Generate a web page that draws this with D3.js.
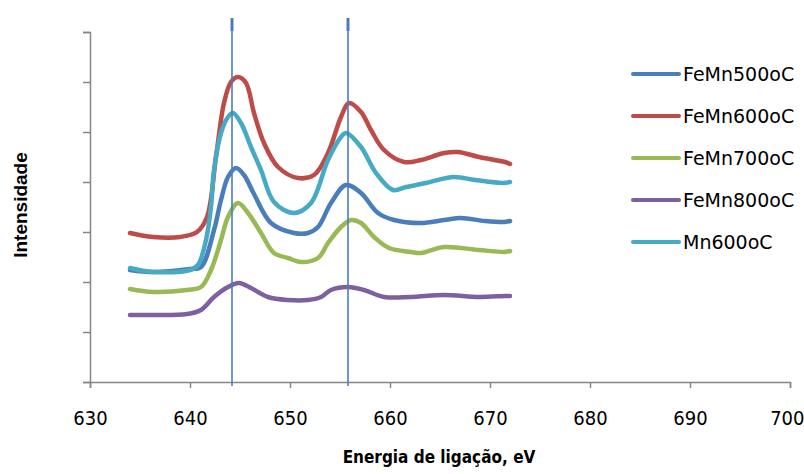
<!DOCTYPE html>
<html>
<head>
<meta charset="utf-8">
<script src="https://cdn.jsdelivr.net/npm/d3@7"></script>
<style>
  html, body { margin: 0; padding: 0; background: #fff; }
  svg { display: block; }
</style>
</head>
<body>
<div id="app"></div>
<script>
// binding energy (eV) and intensity (arbitrary units)
const feMn500E = [634, 636.3, 640, 641.1, 642.4, 643.1, 643.8, 644.6, 645.4, 646.4, 648.1, 650.4, 651.8, 652.8, 654.1, 655.6, 657.1, 658.8, 660.4, 663.1, 665.4, 667.1, 669.5, 671.5, 672];
const feMn500I = [112, 110, 113, 115, 152, 182, 205, 214, 207, 188, 159, 149, 149, 155, 179, 197, 189, 169, 162, 159, 162, 164, 161, 160, 161];

const feMn600E = [634, 636.3, 639, 640.7, 641.7, 642.6, 643.4, 644.1, 644.8, 645.6, 646.4, 647.4, 648.8, 650.8, 652.4, 653.8, 655.1, 655.9, 657.1, 658.1, 659.4, 661.4, 663.1, 665.4, 666.8, 668.9, 671.5, 672];
const feMn600I = [149, 145, 145, 150, 165, 225, 279, 300, 305, 299, 269, 239, 215, 204, 207, 229, 265, 279, 270, 252, 232, 220, 222, 229, 230, 225, 220, 218];

const feMn700E = [634, 636.3, 639.7, 641.1, 642.1, 643.1, 643.8, 644.8, 645.8, 647.1, 648.4, 649.8, 651.1, 652.8, 653.8, 655.1, 656.1, 657.1, 658.4, 659.9, 662.1, 663.1, 665.4, 668.9, 671.5, 672];
const feMn700I = [93, 90, 92, 95, 112, 142, 165, 179, 169, 149, 129, 124, 120, 124, 139, 155, 162, 159, 145, 134, 130, 129, 135, 132, 130, 131];

const feMn800E = [634, 636.3, 639.7, 641.1, 642.4, 643.8, 644.9, 646.1, 647.8, 649.8, 651.8, 653.1, 654.1, 655.8, 657.4, 659.4, 662.1, 665.4, 668.9, 671.5, 672];
const feMn800I = [67, 67, 68, 72, 85, 95, 99, 94, 85, 82, 82, 85, 92, 95, 92, 85, 85, 87, 85, 86, 86];

const mn600E = [634, 636.3, 640, 640.8, 641.6, 642.1, 642.4, 643.1, 643.8, 644.3, 645.1, 646.1, 647.1, 648.4, 650.4, 652.1, 653.8, 655.1, 655.6, 657.1, 658.6, 660.3, 661.6, 663.6, 666.4, 668.5, 671.3, 672];
const mn600I = [114, 110, 112, 117, 142, 175, 212, 249, 265, 269, 259, 235, 212, 180, 169, 179, 222, 245, 249, 235, 209, 192, 195, 199, 205, 202, 199, 200];

const seriesNames = ["FeMn500oC", "FeMn600oC", "FeMn700oC", "FeMn800oC", "Mn600oC"];
const seriesColors = ["#4a7ebb", "#be4b48", "#98b954", "#7d60a0", "#46aac5"];
const seriesE = [feMn500E, feMn600E, feMn700E, feMn800E, mn600E];
const seriesI = [feMn500I, feMn600I, feMn700I, feMn800I, mn600I];

// peak marker lines
const markerE = [644.2, 655.8];

const xTicks = [630, 640, 650, 660, 670, 680, 690, 700];
const yTicks = [0, 50, 100, 150, 200, 250, 300, 350];

const width = 804, height = 474;
const margin = {left: 90, right: 14, top: 32, bottom: 92};

const x = d3.scaleLinear().domain([630, 700]).range([margin.left, width - margin.right]);
const y = d3.scaleLinear().domain([0, 350]).range([height - margin.bottom, margin.top]);

const svg = d3.select("#app").append("svg")
    .attr("width", width)
    .attr("height", height)
    .attr("viewBox", [0, 0, width, height]);

// axes
const axisColor = "#868686";

const gx = svg.append("g")
    .attr("transform", `translate(0,${y(0)})`)
    .call(d3.axisBottom(x).tickValues(xTicks).tickSize(6).tickPadding(23).tickFormat(d3.format("d")));
gx.select(".domain").attr("stroke", axisColor).attr("stroke-width", 1.5);
gx.selectAll(".tick line").attr("stroke", axisColor).attr("stroke-width", 1.5);
gx.selectAll(".tick text")
    .attr("fill", "#000")
    .attr("font-family", "'DejaVu Sans Condensed', 'DejaVu Sans', sans-serif")
    .attr("font-size", 20);
// last label sits against the right edge, as in the original
gx.selectAll(".tick text").filter(d => d === 700).attr("text-anchor", "end").attr("dx", 14);

const gy = svg.append("g")
    .attr("transform", `translate(${x(630)},0)`)
    .call(d3.axisLeft(y).tickValues(yTicks).tickSize(7).tickFormat(""));
gy.select(".domain").attr("stroke", axisColor).attr("stroke-width", 1.5);
gy.selectAll(".tick line").attr("stroke", axisColor).attr("stroke-width", 1.5);

// series
const line = d3.line()
    .x(d => x(d[0]))
    .y(d => y(d[1]))
    .curve(d3.curveCatmullRom.alpha(0.5));

seriesNames.forEach((name, i) => {
  const pts = d3.zip(seriesE[i], seriesI[i]);
  svg.append("path")
      .datum(pts)
      .attr("fill", "none")
      .attr("stroke", seriesColors[i])
      .attr("stroke-width", 4.5)
      .attr("stroke-linejoin", "round")
      .attr("stroke-linecap", "round")
      .attr("d", line);
});

// vertical marker lines
markerE.forEach(e => {
  svg.append("line")
      .attr("x1", x(e)).attr("x2", x(e))
      .attr("y1", 18).attr("y2", y(0) + 4)
      .attr("stroke", "#4a7ebb")
      .attr("stroke-width", 1.6);
  svg.append("line")
      .attr("x1", x(e)).attr("x2", x(e))
      .attr("y1", 18).attr("y2", 31)
      .attr("stroke", "#4a7ebb")
      .attr("stroke-width", 3);
});

// legend
const legend = svg.append("g").attr("transform", "translate(633,74)");
seriesNames.forEach((name, i) => {
  const g = legend.append("g").attr("transform", `translate(0,${i * 42})`);
  g.append("line")
      .attr("x1", 0).attr("x2", 46)
      .attr("stroke", seriesColors[i])
      .attr("stroke-width", 4)
      .attr("stroke-linecap", "round");
  g.append("text")
      .attr("x", 50)
      .attr("dy", "0.36em")
      .attr("font-family", "'DejaVu Sans', sans-serif")
      .attr("font-size", 19)
      .attr("fill", "#000")
      .text(name);
});

// axis titles
svg.append("text")
    .attr("x", 439)
    .attr("y", 463)
    .attr("text-anchor", "middle")
    .attr("font-family", "'DejaVu Sans Condensed', 'DejaVu Sans', sans-serif")
    .attr("font-weight", "bold")
    .attr("font-size", 17)
    .attr("fill", "#000")
    .text("Energia de ligação, eV");

svg.append("text")
    .attr("transform", "translate(27,205) rotate(-90)")
    .attr("text-anchor", "middle")
    .attr("font-family", "'Liberation Sans', Arial, sans-serif")
    .attr("font-weight", "bold")
    .attr("font-size", 19)
    .attr("fill", "#000")
    .text("Intensidade");
</script>
</body>
</html>
